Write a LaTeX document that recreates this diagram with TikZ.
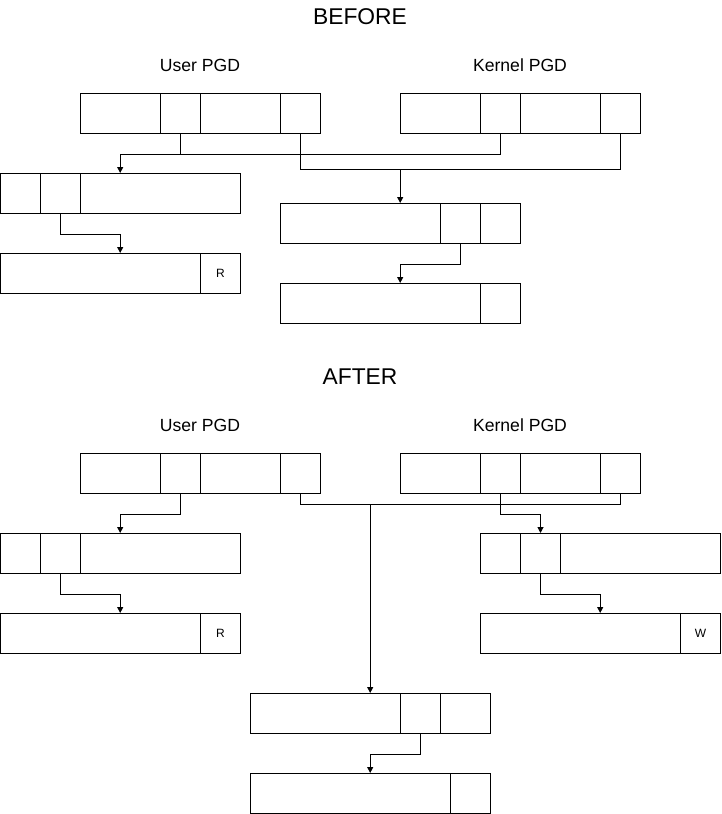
\documentclass[tikz,border=0pt]{standalone}
\usepackage{fontspec}
\setmainfont{Liberation Sans}
\usetikzlibrary{arrows.meta}
\begin{document}
\begin{tikzpicture}[x=1pt,y=-1pt,
  cell/.style={draw, line width=1pt, inner sep=0pt, minimum height=40pt, anchor=north west},
  rowbox/.style={inner sep=0pt, minimum height=40pt, anchor=north west},
  title/.style={font=\fontsize{22.8}{26}\selectfont},
  lbl/.style={font=\fontsize{17.6}{20}\selectfont},
  flag/.style={font=\fontsize{12}{14}\selectfont},
  conn/.style={line width=1pt},
  arr/.style={line width=1pt, -{Triangle[length=6pt,width=6pt]}}]
\useasboundingbox (0,0) rectangle (721,814);
% ================= BEFORE =================
\node[title] (tb) at (360,17) {BEFORE};
\node[lbl] (ulb) at (200,65) {User PGD};
\node[lbl] (klb) at (520,65) {Kernel PGD};
% user PGD
\node[cell, minimum width=80pt] (bu1) at (80,93) {};
\node[cell, minimum width=40pt] (bu2) at (160,93) {};
\node[cell, minimum width=80pt] (bu3) at (200,93) {};
\node[cell, minimum width=40pt] (bu4) at (280,93) {};
% kernel PGD
\node[cell, minimum width=80pt] (bk1) at (400,93) {};
\node[cell, minimum width=40pt] (bk2) at (480,93) {};
\node[cell, minimum width=80pt] (bk3) at (520,93) {};
\node[cell, minimum width=40pt] (bk4) at (600,93) {};
% left table
\node[rowbox, minimum width=240pt] (bL) at (0,173) {};
\node[cell, minimum width=40pt] (bl1) at (0,173) {};
\node[cell, minimum width=40pt] (bl2) at (40,173) {};
\node[cell, minimum width=160pt] (bl3) at (80,173) {};
% left page
\node[rowbox, minimum width=240pt] (bLP) at (0,253) {};
\node[cell, minimum width=200pt] (blp1) at (0,253) {};
\node[cell, minimum width=40pt, flag] (blp2) at (200,253) {R};
% middle table
\node[rowbox, minimum width=240pt] (bM) at (280,203) {};
\node[cell, minimum width=160pt] (bm1) at (280,203) {};
\node[cell, minimum width=40pt] (bm2) at (440,203) {};
\node[cell, minimum width=40pt] (bm3) at (480,203) {};
% middle page
\node[rowbox, minimum width=240pt] (bMP) at (280,283) {};
\node[cell, minimum width=200pt] (bmp1) at (280,283) {};
\node[cell, minimum width=40pt] (bmp2) at (480,283) {};
% connectors
\draw[conn] (bk2.south) -- ++(0,20) coordinate (bj1) -| (bu2.south);
\draw[arr] (bj1) -| (bL.north);
\draw[conn] (bu4.south) -- ++(0,35) coordinate (bj2) -| (bk4.south);
\draw[arr] (bj2) -| (bM.north);
\draw[arr] (bl2.south) -- ++(0,20) -| (bLP.north);
\draw[arr] (bm2.south) -- ++(0,20) -| (bMP.north);
% ================= AFTER =================
\node[title] (ta) at (360,377) {AFTER};
\node[lbl] (ula) at (200,425) {User PGD};
\node[lbl] (kla) at (520,425) {Kernel PGD};
% user PGD
\node[cell, minimum width=80pt] (au1) at (80,453) {};
\node[cell, minimum width=40pt] (au2) at (160,453) {};
\node[cell, minimum width=80pt] (au3) at (200,453) {};
\node[cell, minimum width=40pt] (au4) at (280,453) {};
% kernel PGD
\node[cell, minimum width=80pt] (ak1) at (400,453) {};
\node[cell, minimum width=40pt] (ak2) at (480,453) {};
\node[cell, minimum width=80pt] (ak3) at (520,453) {};
\node[cell, minimum width=40pt] (ak4) at (600,453) {};
% left table
\node[rowbox, minimum width=240pt] (aL) at (0,533) {};
\node[cell, minimum width=40pt] (al1) at (0,533) {};
\node[cell, minimum width=40pt] (al2) at (40,533) {};
\node[cell, minimum width=160pt] (al3) at (80,533) {};
% left page
\node[rowbox, minimum width=240pt] (aLP) at (0,613) {};
\node[cell, minimum width=200pt] (alp1) at (0,613) {};
\node[cell, minimum width=40pt, flag] (alp2) at (200,613) {R};
% right table
\node[rowbox, minimum width=240pt] (aR) at (480,533) {};
\node[cell, minimum width=40pt] (ar1) at (480,533) {};
\node[cell, minimum width=40pt] (ar2) at (520,533) {};
\node[cell, minimum width=160pt] (ar3) at (560,533) {};
% right page
\node[rowbox, minimum width=240pt] (aRP) at (480,613) {};
\node[cell, minimum width=200pt] (arp1) at (480,613) {};
\node[cell, minimum width=40pt, flag] (arp2) at (680,613) {W};
% bottom table
\node[rowbox, minimum width=240pt] (aB) at (250,693) {};
\node[cell, minimum width=150pt] (ab1) at (250,693) {};
\node[cell, minimum width=40pt] (ab2) at (400,693) {};
\node[cell, minimum width=50pt] (ab3) at (440,693) {};
% bottom page
\node[rowbox, minimum width=240pt] (aBP) at (250,773) {};
\node[cell, minimum width=200pt] (abp1) at (250,773) {};
\node[cell, minimum width=40pt] (abp2) at (450,773) {};
% connectors
\draw[conn] (au4.south) -- ++(0,10) coordinate (aj1) -| (ak4.south);
\draw[arr] (aB.north |- aj1) -- (aB.north);
\draw[arr] (au2.south) -- ++(0,20) -| (aL.north);
\draw[arr] (ak2.south) -- ++(0,20) -| (ar2.north);
\draw[arr] (al2.south) -- ++(0,20) -| (aLP.north);
\draw[arr] (ar2.south) -- ++(0,20) -| (aRP.north);
\draw[arr] (ab2.south) -- ++(0,20) -| (aBP.north);
\end{tikzpicture}
\end{document}
